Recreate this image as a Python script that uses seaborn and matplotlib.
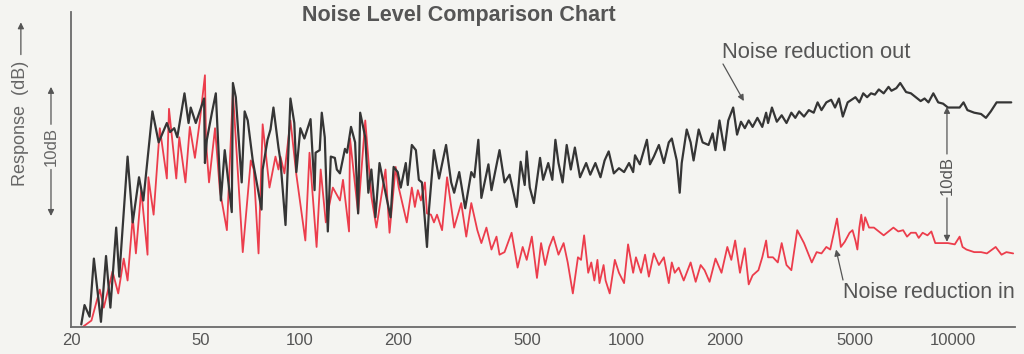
import matplotlib
matplotlib.use("Agg")
import matplotlib.pyplot as plt
import pandas as pd
import seaborn as sns

# ---------------- data ----------------
title = "Noise Level Comparison Chart"
series_names = ["Noise reduction out", "Noise reduction in"]

out_freq = [21.5, 22.0, 22.8, 23.5, 24.7, 25.6, 26.4, 27.5, 28.1, 29.8,
            30.9, 32.3, 33.3, 35.5, 37.1, 39.3, 40.2, 41.4, 42.3, 44.5,
            45.8, 46.5, 48.2, 51.1, 51.4, 52.1, 54.0, 55.5, 57.5, 59.1,
            62.1, 62.6, 63.9, 66.6, 68.0, 69.5, 72.0, 76.6, 77.2, 79.9,
            81.6, 83.3, 86.3, 87.5, 90.7, 93.9, 96.5, 97.9, 100.7, 103.6,
            108.2, 111.3, 112.1, 115.4, 117.1, 119.6, 122.2, 124.8, 128.4, 130.2,
            133.1, 137.9, 139.9, 143.9, 148.1, 151.3, 153.5, 159.1, 162.6, 166.1,
            170.9, 175.9, 183.5, 190.2, 194.3, 200, 204.3, 211.7, 214.7, 220.9,
            227.3, 232.1, 237.2, 245.8, 249.3, 258.2, 267.6, 281.2, 291.5, 297.7,
            308.5, 321.8, 335.9, 343.1, 353.0, 360.6, 379.0, 387.2, 409.8, 424.6,
            439.9, 462.4, 475.7, 489.4, 496.4, 507.3, 522.1, 545.3, 557.2, 577.7,
            594.6, 607.6, 621.0, 639.2, 658.0, 677.2, 697.0, 722.7, 754.7, 776.8,
            805.4, 835.0, 859.4, 884.6, 917.1, 950.9, 985.9, 1021, 1051, 1065,
            1102, 1158, 1183, 1216, 1260, 1305, 1351, 1380, 1429, 1459,
            1480, 1533, 1576, 1609, 1668, 1715, 1788, 1840, 1878, 1931,
            2000, 2055, 2127, 2186, 2247, 2309, 2373, 2439, 2523, 2611,
            2683, 2720, 2795, 2893, 2994, 3097, 3205, 3295, 3386, 3504,
            3625, 3752, 3856, 3963, 4101, 4243, 4361, 4482, 4606, 4766,
            4899, 5034, 5175, 5319, 5466, 5619, 5775, 5936, 6143, 6357,
            6489, 6716, 6903, 7193, 7444, 7704, 7972, 8195, 8423, 8717,
            9021, 9336, 9662, 10138, 10492, 10784, 11084, 11629, 12202, 12628,
            13069, 13618, 14288, 15095]
out_db = [-8.4, -6.9, -7.8, -3.3, -8.2, -3.1, -7.1, -0.9, -4.7, 4.6,
          -0.5, 3.0, 1.2, 8.1, 5.7, 7.2, 6.5, 6.8, 6.1, 9.5,
          7.2, 8.4, 7.2, 9.1, 4.1, 5.9, 8.0, 9.5, 1.2, 5.1,
          0.3, 10.3, 9.2, 2.6, 8.1, 7.4, 4.3, 0.5, 3.6, 5.9,
          6.7, 8.4, 5.3, 4.3, -0.7, 9.1, 7.2, 3.4, 6.8, 6.0,
          7.5, 2.0, 4.9, 5.1, 8.0, 6.1, -1.2, 4.6, 4.5, 3.6,
          3.3, 5.2, 4.9, 6.9, 5.7, 0.2, 8.0, 6.1, 1.8, 3.6,
          -0.1, 4.1, 1.8, -0.1, 3.8, 3.4, 2.2, 4.1, 2.4, 5.5,
          5.1, 2.8, 2.6, -2.4, 0.5, 5.1, 2.9, 5.5, 2.6, 1.8,
          3.4, 0.6, 3.4, 3.0, 5.9, 1.4, 4.0, 2.0, 5.1, 2.6,
          3.2, 0.7, 4.2, 2.4, 5.0, 2.2, 1.0, 4.5, 2.8, 4.1,
          2.8, 5.9, 4.1, 2.6, 5.5, 3.6, 5.3, 3.0, 4.1, 3.2,
          4.1, 3.0, 4.3, 5.0, 3.3, 3.7, 3.4, 4.1, 3.4, 4.7,
          4.0, 5.9, 4.0, 4.6, 5.5, 4.1, 5.7, 6.0, 4.3, 1.8,
          4.1, 6.7, 5.7, 4.3, 6.7, 5.7, 5.5, 6.4, 5.1, 7.4,
          5.1, 7.4, 8.4, 6.3, 7.3, 6.8, 7.4, 6.9, 7.6, 6.9,
          8.0, 7.2, 8.4, 7.3, 7.8, 7.2, 8.0, 7.6, 8.1, 7.7,
          8.2, 8.0, 8.8, 8.2, 8.8, 9.0, 8.4, 9.1, 7.7, 8.8,
          9.0, 9.2, 8.8, 9.5, 9.2, 9.5, 9.4, 9.8, 9.5, 10.0,
          9.7, 9.9, 10.3, 9.6, 9.5, 9.2, 8.9, 9.1, 8.8, 9.5,
          8.8, 8.7, 8.4, 8.4, 8.4, 8.8, 8.2, 8.0, 7.9, 7.6,
          8.1, 8.8, 8.8, 8.8]

in_freq = [21.7, 23.1, 24.5, 25.2, 26.8, 27.9, 29.0, 29.8, 30.9, 31.6,
           32.8, 34.3, 34.5, 35.8, 37.4, 39.3, 39.9, 42.0, 42.9, 44.8,
           46.2, 47.9, 49.6, 51.4, 51.8, 52.9, 55.2, 57.1, 60.0, 62.6,
           67.1, 71.0, 72.5, 75.0, 77.2, 81.0, 84.5, 86.3, 87.5, 90.0,
           93.9, 97.9, 104.3, 107.4, 112.9, 116.2, 120.5, 126.6, 133.1, 136.0,
           141.9, 142.9, 151.3, 159.1, 166.1, 172.1, 183.5, 188.8, 197.1, 201.4,
           213.2, 220.9, 225.7, 230.5, 235.5, 242.3, 245.8, 252.8, 258.2, 263.8,
           273.4, 283.2, 297.7, 312.9, 324.2, 335.9, 350.5, 360.6, 373.7, 387.2,
           401.2, 409.8, 424.6, 446.2, 465.6, 482.5, 496.4, 514.6, 533.6, 549.3,
           565.3, 581.9, 598.9, 621.0, 643.8, 662.7, 687.1, 712.3, 727.9, 743.9,
           765.7, 782.4, 799.6, 817.1, 829.0, 853.3, 865.6, 891.0, 923.8, 950.9,
           985.9, 1014, 1051, 1072, 1111, 1143, 1174, 1216, 1260, 1305,
           1351, 1380, 1409, 1449, 1501, 1576, 1633, 1691, 1739, 1801,
           1878, 1959, 2041, 2099, 2157, 2231, 2309, 2373, 2439, 2541,
           2611, 2683, 2720, 2815, 2913, 2994, 3097, 3205, 3340, 3504,
           3701, 3830, 3963, 4101, 4215, 4421, 4543, 4669, 4831, 4932,
           5034, 5104, 5175, 5246, 5319, 5392, 5542, 5735, 5936, 6143,
           6357, 6579, 6809, 7046, 7242, 7444, 7704, 7864, 8083, 8365,
           8597, 8837, 9272, 9662, 10138, 10492, 10710, 11008, 11629, 12202,
           12715, 13525, 14094, 14586, 15300]
in_db = [-8.6, -8.1, -5.7, -7.1, -4.3, -6.0, -3.3, -5.0, -0.1, -2.9,
         2.0, -3.0, 3.0, 0.1, 6.8, 2.9, 8.3, 2.9, 6.1, 2.6,
         6.9, 4.5, 7.4, 10.9, 5.7, 2.6, 6.8, 2.0, -1.1, 9.6,
         -2.8, 4.3, 3.6, -2.9, 7.1, 2.2, 4.6, 3.6, 4.6, 3.3,
         7.4, 3.2, -1.9, 4.9, -2.4, 3.6, -0.5, 2.2, 1.2, 2.8,
         -1.2, 6.0, 0.2, 7.4, 1.5, -0.9, 3.6, -1.3, 3.8, 2.2,
         -0.5, 2.2, 0.7, 2.0, 1.2, 2.6, 0.2, 0.1, -0.5, 0.1,
         -1.1, 3.0, -0.9, 1.0, -1.6, 1.0, -1.1, -2.1, -0.9, -2.6,
         -1.6, -3.0, -2.8, -1.3, -4.0, -2.4, -3.4, -1.6, -4.8, -2.1,
         -3.8, -2.4, -1.6, -3.0, -2.1, -3.6, -6.0, -3.2, -3.4, -1.5,
         -4.4, -3.6, -5.0, -3.4, -5.2, -3.8, -5.0, -6.0, -3.4, -4.4,
         -5.2, -2.2, -4.4, -3.2, -4.4, -3.0, -4.7, -2.9, -3.8, -3.2,
         -5.2, -3.6, -4.4, -4.0, -5.0, -3.6, -5.1, -3.8, -4.2, -5.1,
         -3.3, -4.4, -2.4, -3.4, -1.9, -4.4, -2.5, -5.3, -4.6, -4.2,
         -3.2, -1.9, -3.2, -3.2, -3.6, -2.1, -3.8, -4.2, -1.1, -2.1,
         -3.6, -2.8, -2.9, -2.4, -2.6, -0.2, -2.4, -2.0, -1.3, -1.1,
         -1.9, -2.6, -0.9, 0.1, -1.1, -0.1, -0.9, -0.9, -1.2, -1.5,
         -1.2, -0.9, -1.2, -1.1, -1.6, -1.3, -1.3, -1.7, -1.3, -1.5,
         -1.2, -2.1, -2.1, -2.1, -2.2, -1.6, -2.4, -2.6, -2.8, -2.8,
         -2.9, -2.4, -3.0, -2.8, -2.9]

xtick_values = [20, 50, 100, 200, 500, 1000, 2000, 5000, 10000]
xtick_labels = ["20", "50", "100", "200", "500", "1000", "2000", "5000", "10000"]
ytick_values = [0, 10]

# ---------------- style ----------------
BG = "#f4f4f1"
INK = "#555555"
BLACK_LINE = "#353535"
RED_LINE = "#ec3d4c"

sns.set_style("white")
plt.rcParams["font.family"] = ["Liberation Sans", "DejaVu Sans"]

W, H = 1024, 354
fig = plt.figure(figsize=(W / 100, H / 100), dpi=100, facecolor=BG)
ax = fig.add_axes([71 / W, 27 / H, 944 / W, 315 / H])
ax.set_facecolor(BG)
ax.set_xscale("log")

df_out = pd.DataFrame({"freq": out_freq, "db": out_db})
df_in = pd.DataFrame({"freq": in_freq, "db": in_db})
sns.lineplot(data=df_in, x="freq", y="db", ax=ax, color=RED_LINE, lw=1.3,
             estimator=None, sort=False)
sns.lineplot(data=df_out, x="freq", y="db", ax=ax, color=BLACK_LINE, lw=1.6,
             estimator=None, sort=False)

ax.set_xlim(20, 15500)
ax.set_ylim(-8.6, 15.8)
ax.set_xlabel("")
ax.set_ylabel("")

for s in ["top", "right"]:
    ax.spines[s].set_visible(False)
for s in ["left", "bottom"]:
    ax.spines[s].set_color("#6a6a6a")
    ax.spines[s].set_linewidth(1.3)

ax.set_xticks(xtick_values)
ax.set_xticklabels(xtick_labels)
ax.xaxis.set_minor_locator(matplotlib.ticker.NullLocator())
ax.tick_params(axis="x", direction="in", length=8, width=1.1, color="#6a6a6a",
               labelsize=12, labelcolor=INK, pad=4)
ax.set_yticks(ytick_values)
ax.set_yticklabels([])
ax.tick_params(axis="y", direction="out", length=8, width=1.1, color="#6a6a6a")

# title
fig.text(459 / W, 1 - 15 / H, title, ha="center", va="center",
         fontsize=15.5, fontweight="bold", color=INK)

# y-axis label with arrow
ax.text(-0.0531, 7.2, "Response  (dB)", rotation=90, ha="center", va="center",
        fontsize=13, color="#666666", transform=ax.get_yaxis_transform())
arrow_kw = dict(arrowstyle="-|>", color="#555555", lw=0.9, mutation_scale=9,
                shrinkA=0, shrinkB=0)
ax.annotate("", xy=(-0.0531, 15.0), xytext=(-0.0531, 12.5),
            xycoords=("axes fraction", "data"), textcoords=("axes fraction", "data"),
            arrowprops=arrow_kw)

# left 10 dB marker
ax.text(-0.0212, 5.35, "10dB", rotation=90, ha="center", va="center",
        fontsize=12, color="#666666", transform=ax.get_yaxis_transform())
ax.annotate("", xy=(-0.0212, 10.0), xytext=(-0.0212, 7.1),
            xycoords=("axes fraction", "data"), textcoords=("axes fraction", "data"),
            arrowprops=arrow_kw)
ax.annotate("", xy=(-0.0212, 0.0), xytext=(-0.0212, 3.6),
            xycoords=("axes fraction", "data"), textcoords=("axes fraction", "data"),
            arrowprops=arrow_kw)

# right 10 dB marker between the curves
ax.text(9596, 3.1, "10dB", rotation=90, ha="center", va="center",
        fontsize=12, color="#555555")
ax.annotate("", xy=(9596, 8.45), xytext=(9596, 4.8), arrowprops=arrow_kw)
ax.annotate("", xy=(9596, -2.0), xytext=(9596, 1.4), arrowprops=arrow_kw)

# series labels with pointer arrows
fig.text(722 / W, 1 - 52 / H, series_names[0], ha="left", va="center",
         fontsize=15.8, color=INK)
ax.annotate("", xy=(2293, 8.9), xytext=(723, H - 64), textcoords="figure pixels",
            arrowprops=arrow_kw)
fig.text(843 / W, 1 - 293 / H, series_names[1], ha="left", va="center",
         fontsize=15.5, color=INK)
ax.annotate("", xy=(4391, -2.6), xytext=(843, H - 280), textcoords="figure pixels",
            arrowprops=arrow_kw)

fig.savefig("out.png", dpi=100, facecolor=BG)
